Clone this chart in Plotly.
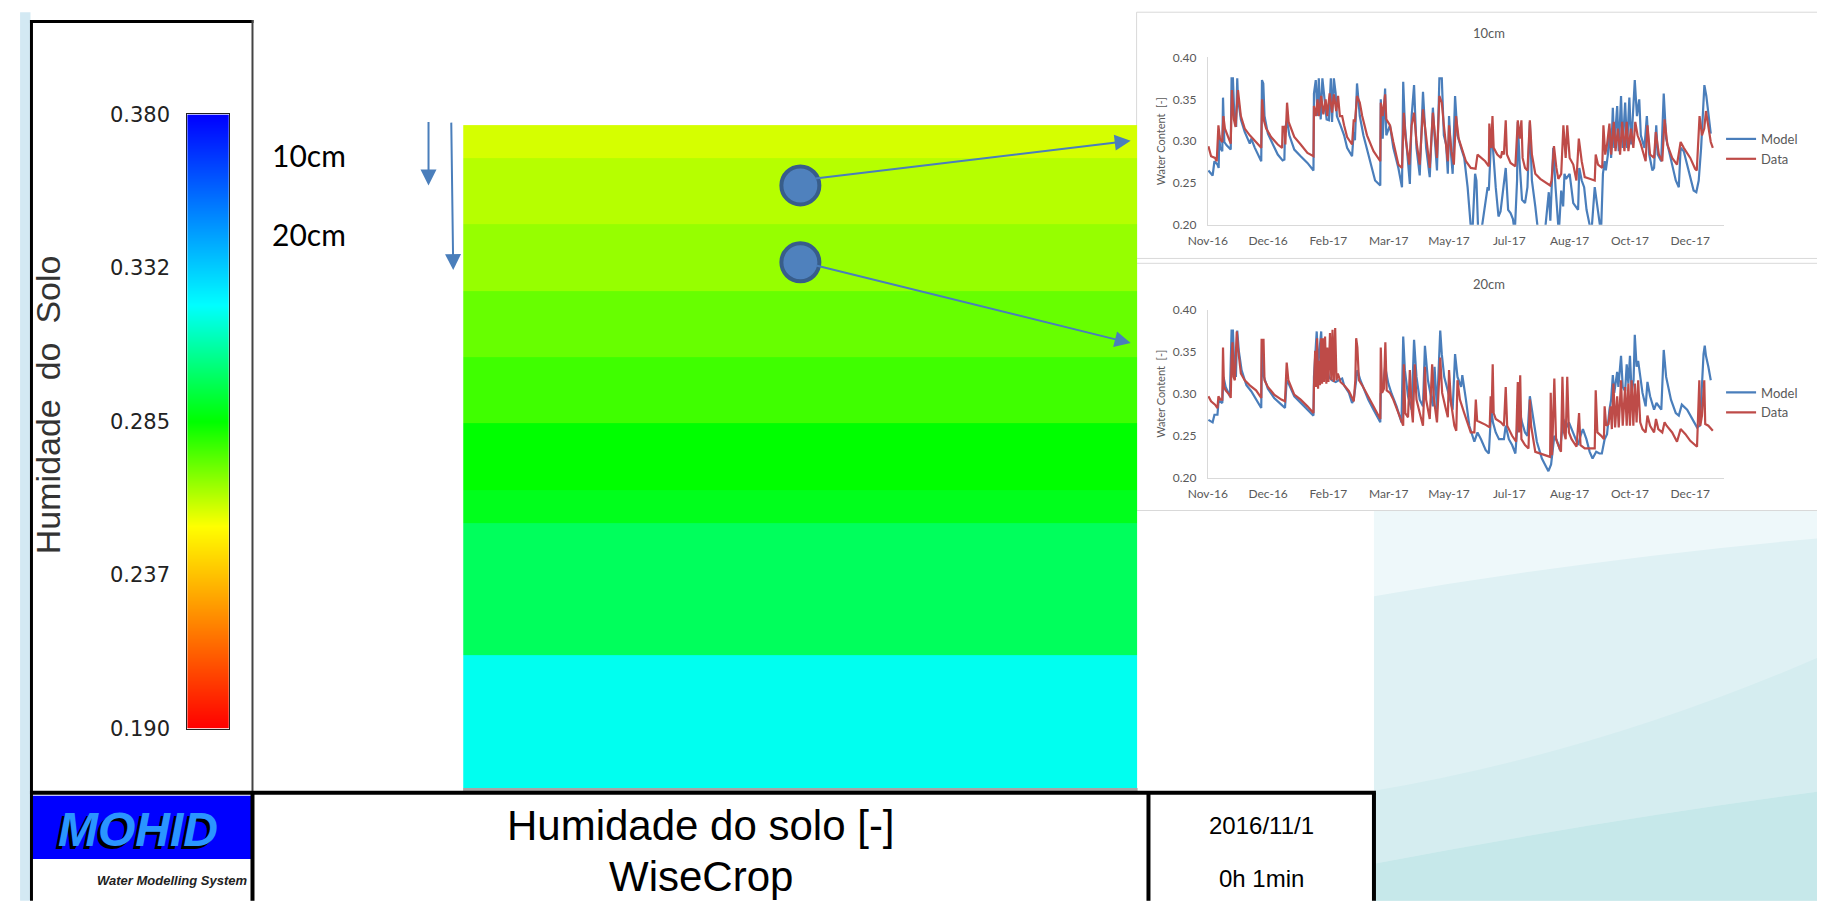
import pandas as pd
import plotly.graph_objects as go

W, H = 1825, 913          # page size
MARGIN = 8                # browser body margin
FW, FH = W - 2 * MARGIN, H - 2 * MARGIN

# ------------------------------------------------------------------ data
cb_levels = [0.190, 0.2375, 0.285, 0.3325, 0.380]
cb_ticktext = ["0.190", "0.237", "0.285", "0.332", "0.380"]

layer_edges_cm = [0, 5, 15, 25, 35, 45, 55, 60, 80, 100]
layer_moisture = [0.258, 0.262, 0.266, 0.272, 0.277, 0.285, 0.289, 0.298, 0.319]

sensor_labels = ["10cm", "20cm"]
sensor_depth_cm = [9.1, 20.7]

start_date = "2016-11-01"
axis_end_date = "2018-01-03"
tick_step_days = 50

# (days since 2016-11-01, water content)
model_10cm = [
    (0.5, 0.265), (4, 0.259), (5.5, 0.276), (8, 0.272), (9, 0.268), (9.5, 0.307), (10.2, 0.292),
    (12, 0.288), (12.6, 0.352), (13.7, 0.299), (15.6, 0.295), (19, 0.29), (19.7, 0.375), (20.8, 0.375),
    (22, 0.33), (23.5, 0.317), (24.4, 0.375), (25, 0.352), (27.4, 0.326), (30.6, 0.311), (34.8, 0.297),
    (36, 0.303), (39, 0.292), (44.3, 0.276), (44.9, 0.373), (46, 0.369), (47, 0.33), (49.8, 0.309),
    (54, 0.296), (58, 0.284), (62, 0.277), (63.5, 0.278), (64, 0.315), (65.7, 0.325), (67.6, 0.307),
    (71.7, 0.29), (77, 0.282), (82.6, 0.274), (87.6, 0.265), (88, 0.357), (89.5, 0.373), (91, 0.33),
    (92, 0.375), (93.6, 0.326), (95, 0.375), (97, 0.35), (98.5, 0.326), (100.4, 0.325), (102, 0.375),
    (103, 0.323), (104.5, 0.375), (106, 0.357), (107, 0.33), (110, 0.319), (113, 0.307), (115.5, 0.292),
    (119.6, 0.282), (121, 0.311), (122, 0.301), (123.7, 0.369), (126, 0.33), (129, 0.307), (134.6, 0.276),
    (138.7, 0.253), (143, 0.247), (143.4, 0.35), (145, 0.303), (147, 0.363), (148, 0.307), (151, 0.319),
    (153.8, 0.292), (158, 0.268), (161, 0.245), (162, 0.371), (163.4, 0.319), (166, 0.28), (167.5, 0.249),
    (169, 0.33), (171, 0.367), (173, 0.292), (175.7, 0.259), (178.4, 0.359), (181, 0.292), (184, 0.257),
    (186.6, 0.34), (188, 0.307), (190, 0.265), (192, 0.375), (194, 0.375), (195.7, 0.307), (197.6, 0.296),
    (199, 0.261), (200, 0.33), (201.7, 0.284), (203, 0.261), (205, 0.354), (207, 0.307), (210, 0.292),
    (212.6, 0.28), (215.4, 0.245), (218, 0.2), (219, 0.18), (221.6, 0.261), (222.7, 0.253), (224, 0.199),
    (226, 0.185), (232, 0.245), (233, 0.241), (235, 0.307), (236.4, 0.292), (238.7, 0.245), (241, 0.21),
    (242.7, 0.216), (244, 0.23), (247, 0.268), (249, 0.218), (251, 0.214), (253, 0.207), (254.5, 0.19),
    (256.4, 0.253), (257, 0.323), (258.6, 0.272), (260.5, 0.23), (263, 0.226), (265, 0.245), (267, 0.323),
    (268.7, 0.253), (271.5, 0.222), (274, 0.19), (278, 0.17), (282.7, 0.239), (284, 0.205), (286.4, 0.292),
    (288.3, 0.245), (290, 0.214), (291, 0.19), (293, 0.241), (294.6, 0.222), (295.7, 0.261), (297, 0.255),
    (300, 0.261), (303, 0.226), (307, 0.218), (308, 0.268), (310, 0.253), (312, 0.245), (314, 0.218),
    (318, 0.19), (320.8, 0.245), (322, 0.23), (324, 0.207), (326, 0.19), (327.6, 0.261), (329, 0.276),
    (330, 0.265), (331.7, 0.284), (333, 0.315), (334.4, 0.28), (335.8, 0.34), (337, 0.292), (339.4, 0.342),
    (340.7, 0.288), (342.6, 0.354), (344, 0.292), (346, 0.346), (347.6, 0.292), (349.5, 0.352), (351, 0.296),
    (352, 0.319), (354, 0.373), (355.8, 0.33), (357.7, 0.35), (359, 0.307), (362, 0.292), (364, 0.33),
    (366, 0.284), (368.6, 0.265), (370, 0.268), (371.8, 0.319), (373, 0.284), (375.9, 0.276), (378, 0.357),
    (380, 0.303), (384, 0.276), (388, 0.253), (390.5, 0.245), (392, 0.292), (394.6, 0.288), (398.7, 0.265),
    (402.8, 0.241), (405, 0.239), (407, 0.253), (409, 0.292), (410.5, 0.342), (411.7, 0.367), (413.3, 0.354),
    (415, 0.33), (417, 0.309),
]

data_10cm = [
    (0.5, 0.294), (2.7, 0.282), (6, 0.28), (7.4, 0.276), (8.8, 0.319), (10, 0.303), (12, 0.299), (12.9, 0.33),
    (14.2, 0.315), (17, 0.305), (19, 0.297), (20, 0.361), (21.6, 0.326), (23, 0.317), (24.4, 0.35), (25, 0.361),
    (27.4, 0.33), (30.6, 0.315), (34.8, 0.307), (37.5, 0.303), (44.3, 0.292), (45, 0.35), (46.5, 0.325),
    (48.4, 0.315), (52.5, 0.305), (58, 0.296), (61.6, 0.292), (62, 0.317), (63.5, 0.317), (64.3, 0.296),
    (65.7, 0.346), (67, 0.323), (71.7, 0.305), (77, 0.296), (82.6, 0.286), (87.6, 0.282), (88, 0.342),
    (89.5, 0.33), (91, 0.35), (92, 0.33), (94, 0.354), (95.8, 0.332), (97.7, 0.35), (99, 0.33), (101, 0.357),
    (103, 0.334), (104.5, 0.356), (106.5, 0.336), (108, 0.354), (109.5, 0.33), (111.4, 0.33), (113, 0.319),
    (115.5, 0.305), (119.6, 0.296), (121, 0.326), (122, 0.323), (123.7, 0.354), (126, 0.346), (128, 0.33),
    (132, 0.307), (137.4, 0.288), (143, 0.276), (143.4, 0.346), (145, 0.33), (147, 0.356), (148, 0.326),
    (151, 0.319), (153.8, 0.299), (158, 0.272), (161, 0.268), (162.5, 0.334), (164, 0.303), (167, 0.272),
    (169, 0.319), (171, 0.334), (173, 0.299), (175.7, 0.272), (178.4, 0.338), (181, 0.303), (184, 0.268),
    (186.6, 0.334), (190, 0.28), (192, 0.354), (194, 0.346), (195.7, 0.319), (199, 0.276), (200, 0.319),
    (202, 0.288), (204, 0.272), (205.8, 0.33), (208, 0.303), (211, 0.288), (214, 0.276), (218, 0.268),
    (222, 0.267), (223.6, 0.284), (226.5, 0.28), (230, 0.276), (233, 0.27), (233.4, 0.321), (235, 0.292),
    (236, 0.33), (237, 0.292), (240, 0.284), (243, 0.28), (244, 0.288), (245.5, 0.284), (247, 0.325),
    (248, 0.284), (251, 0.274), (255, 0.27), (257, 0.325), (258.6, 0.303), (260, 0.325), (261, 0.28),
    (263, 0.268), (265, 0.265), (267, 0.325), (268.7, 0.284), (271.5, 0.261), (275.6, 0.255), (279.7, 0.251),
    (283.8, 0.247), (285, 0.253), (287, 0.294), (289, 0.268), (290.6, 0.255), (293, 0.261), (294.8, 0.319),
    (296.7, 0.28), (298, 0.319), (300, 0.28), (303, 0.272), (305.6, 0.253), (307.6, 0.303), (310, 0.276),
    (312.5, 0.257), (316.6, 0.255), (320.8, 0.253), (321.6, 0.284), (323.5, 0.272), (327, 0.268), (328, 0.319),
    (329.5, 0.284), (331, 0.296), (333, 0.321), (334.4, 0.284), (336.6, 0.323), (338, 0.288), (340, 0.315),
    (341.8, 0.284), (343.5, 0.323), (345.4, 0.288), (347.3, 0.323), (348.7, 0.288), (350.8, 0.315),
    (352.8, 0.292), (354.4, 0.323), (356.3, 0.307), (358.5, 0.299), (360.4, 0.288), (363, 0.276),
    (364.5, 0.319), (366.7, 0.284), (370, 0.28), (371.4, 0.311), (374, 0.284), (376.8, 0.276), (378.7, 0.326),
    (381, 0.296), (385, 0.28), (389, 0.272), (392, 0.299), (394.6, 0.292), (400, 0.28), (404, 0.267),
    (405.4, 0.265), (407.7, 0.33), (409.7, 0.307), (411.6, 0.315), (413, 0.336), (415, 0.315), (417, 0.299),
    (418.7, 0.292),
]

model_20cm = [
    (0.5, 0.269), (4, 0.266), (5.5, 0.275), (8, 0.275), (8.8, 0.289), (10, 0.291), (12, 0.289), (13, 0.32),
    (14.8, 0.308), (18.3, 0.297), (19.7, 0.375), (20.8, 0.375), (22, 0.332), (23.3, 0.32), (24.4, 0.375),
    (25.7, 0.351), (28, 0.328), (32, 0.31), (36, 0.303), (40, 0.293), (44.3, 0.283), (45, 0.364), (46.5, 0.32),
    (49.8, 0.306), (55, 0.295), (61, 0.287), (64, 0.283), (65.4, 0.316), (67, 0.312), (71.7, 0.297), (77, 0.289),
    (82.6, 0.281), (87.6, 0.274), (88, 0.32), (90.3, 0.374), (91.4, 0.332), (94, 0.374), (95, 0.335),
    (97.7, 0.328), (99, 0.332), (100.4, 0.32), (103, 0.316), (106, 0.314), (108.6, 0.316), (111.4, 0.318),
    (113, 0.31), (117, 0.301), (119.6, 0.289), (121, 0.293), (123, 0.316), (124, 0.328), (126.5, 0.316),
    (130, 0.304), (133, 0.293), (137.4, 0.281), (143, 0.266), (143.4, 0.3), (145, 0.306), (147, 0.332),
    (149.7, 0.312), (152.4, 0.3), (156.5, 0.285), (160.6, 0.266), (162, 0.368), (163.4, 0.328), (166, 0.297),
    (169, 0.281), (171, 0.364), (173, 0.32), (175.7, 0.293), (178.4, 0.285), (180, 0.357), (182.5, 0.316),
    (186.6, 0.285), (188, 0.332), (190, 0.281), (192.7, 0.375), (194, 0.347), (196, 0.32), (199.8, 0.297),
    (203, 0.281), (205, 0.347), (207, 0.32), (210, 0.308), (211, 0.322), (214, 0.293), (216.8, 0.262),
    (221, 0.243), (223.6, 0.254), (226.5, 0.246), (230.4, 0.233), (233, 0.229), (235, 0.281), (236.4, 0.266),
    (238.7, 0.254), (241.4, 0.246), (245.5, 0.246), (247, 0.262), (249.6, 0.246), (252.3, 0.239), (255, 0.229),
    (257.8, 0.285), (260.5, 0.266), (263, 0.254), (265, 0.25), (267, 0.297), (269, 0.277), (272.8, 0.243),
    (277, 0.223), (279.7, 0.216), (282.4, 0.208), (284.6, 0.216), (287.3, 0.25), (289, 0.246), (292, 0.233),
    (294.8, 0.27), (296.7, 0.258), (299.4, 0.266), (303, 0.254), (307, 0.239), (309, 0.25), (311, 0.258),
    (313.9, 0.246), (316.6, 0.231), (319, 0.223), (322, 0.231), (324.7, 0.229), (326.7, 0.229), (329, 0.246),
    (331, 0.252), (333, 0.281), (334.4, 0.293), (335.8, 0.322), (337, 0.301), (339.4, 0.326), (340.4, 0.308),
    (342.6, 0.345), (344, 0.308), (346, 0.303), (347.3, 0.335), (348.7, 0.312), (350, 0.345), (351.4, 0.301),
    (353, 0.316), (354, 0.37), (355.5, 0.332), (356.8, 0.339), (358.5, 0.32), (360.4, 0.301), (363, 0.285),
    (364.5, 0.314), (366.7, 0.297), (370, 0.281), (372, 0.289), (374, 0.285), (376, 0.281), (378, 0.352),
    (380, 0.32), (384, 0.293), (388, 0.277), (390.5, 0.274), (393, 0.287), (397.4, 0.281), (401.5, 0.27),
    (405.6, 0.26), (408, 0.262), (409.7, 0.312), (411, 0.347), (412, 0.357), (413, 0.345), (415, 0.332),
    (417, 0.316),
]

data_20cm = [
    (0.5, 0.297), (2.7, 0.291), (6, 0.287), (8, 0.283), (8.8, 0.297), (10.4, 0.293), (12, 0.293), (12.6, 0.355),
    (13.4, 0.308), (14.8, 0.304), (18.3, 0.298), (19, 0.295), (19.7, 0.343), (20.5, 0.361), (21.3, 0.32),
    (22.4, 0.316), (24, 0.374), (25, 0.355), (27.4, 0.324), (30.6, 0.316), (34.8, 0.31), (40, 0.304),
    (44.3, 0.295), (44.6, 0.364), (46.2, 0.364), (47, 0.316), (49.8, 0.308), (55, 0.299), (61, 0.293),
    (64, 0.291), (65.4, 0.337), (66.8, 0.316), (71.7, 0.299), (77, 0.293), (82.6, 0.285), (87.6, 0.277),
    (88, 0.308), (89, 0.351), (89.8, 0.308), (90.6, 0.366), (91.4, 0.306), (92.2, 0.339), (93, 0.31),
    (93.9, 0.366), (94.7, 0.312), (95.5, 0.366), (96.3, 0.314), (97.2, 0.368), (98.3, 0.312), (99, 0.355),
    (100, 0.314), (101.3, 0.372), (102.4, 0.316), (103.4, 0.376), (104.5, 0.314), (105.6, 0.378),
    (106.7, 0.316), (107.8, 0.324), (110, 0.314), (113, 0.31), (117, 0.303), (121, 0.291), (122.3, 0.316),
    (123, 0.366), (124, 0.355), (125.3, 0.316), (128, 0.31), (132, 0.299), (137.4, 0.285), (143, 0.27),
    (143.4, 0.355), (144.5, 0.301), (146, 0.306), (147.2, 0.361), (148.3, 0.304), (151, 0.301), (153.8, 0.293),
    (158, 0.277), (162, 0.262), (162.5, 0.335), (163.7, 0.277), (166, 0.272), (167.5, 0.328), (169, 0.281),
    (170, 0.266), (171.6, 0.335), (173, 0.293), (175.7, 0.277), (178.4, 0.262), (180, 0.332), (181, 0.293),
    (184, 0.27), (186, 0.335), (187.5, 0.293), (190, 0.266), (192.7, 0.343), (194.3, 0.301), (196.8, 0.285),
    (199, 0.272), (200, 0.328), (201.7, 0.289), (204.4, 0.262), (206, 0.256), (207, 0.316), (209, 0.293),
    (212.6, 0.277), (215.4, 0.264), (218, 0.254), (221, 0.254), (222.2, 0.293), (223.3, 0.268), (226.5, 0.266),
    (230.4, 0.263), (233.7, 0.26), (234.5, 0.297), (235.3, 0.277), (236.2, 0.335), (237, 0.277), (238.7, 0.27),
    (243, 0.266), (245.5, 0.262), (247, 0.308), (248.2, 0.262), (252.3, 0.25), (255.6, 0.243), (257, 0.314),
    (258, 0.254), (259, 0.322), (260, 0.246), (263, 0.239), (265.9, 0.235), (267, 0.293), (268, 0.262),
    (271.5, 0.231), (275.6, 0.229), (279.7, 0.227), (283.8, 0.225), (284.3, 0.301), (285.4, 0.227),
    (287.3, 0.318), (288.7, 0.246), (290.6, 0.239), (292.8, 0.231), (294, 0.32), (295.3, 0.254), (296.7, 0.246),
    (298, 0.32), (299.4, 0.254), (301.6, 0.246), (305.7, 0.237), (307.8, 0.277), (309, 0.239), (312.5, 0.235),
    (316.6, 0.235), (320.8, 0.235), (321.6, 0.304), (323, 0.254), (326.2, 0.25), (328.4, 0.246), (329, 0.285),
    (330.3, 0.262), (332.2, 0.264), (333.9, 0.285), (335, 0.258), (336.3, 0.312), (337.7, 0.26), (339.4, 0.297),
    (340.7, 0.26), (342.6, 0.316), (344, 0.262), (346, 0.308), (347.3, 0.262), (348.7, 0.312), (350, 0.262),
    (351.4, 0.316), (352.8, 0.262), (354.1, 0.312), (355.5, 0.266), (356.8, 0.316), (358.5, 0.266),
    (360.4, 0.258), (363, 0.254), (364.5, 0.274), (366.7, 0.262), (370, 0.254), (371.6, 0.27), (373.5, 0.258),
    (376.8, 0.254), (378.7, 0.266), (380.4, 0.262), (385, 0.254), (389, 0.243), (392, 0.258), (396, 0.252),
    (400, 0.244), (405.6, 0.237), (407.5, 0.316), (408.3, 0.262), (409.7, 0.274), (411.6, 0.316),
    (412.4, 0.264), (415, 0.262), (417, 0.258), (418.7, 0.256),
]

# ------------------------------------------------------------------ helpers
def px(x):
    return (x - MARGIN) / FW


def py(y):
    return 1 - (y - MARGIN) / FH


def to_dates(series):
    days = [d for d, _ in series]
    return pd.Timestamp(start_date) + pd.to_timedelta(days, unit="D")


def vals(series):
    return [v for _, v in series]


RAINBOW = [[0.0, "#ff0000"], [0.33, "#ffff00"], [0.5, "#00ff00"], [0.69, "#00ffff"], [1.0, "#0000ff"]]
ZMIN, ZMAX = cb_levels[0], cb_levels[-1]

MODEL_C = "#4a7ebb"
DATA_C = "#be4b48"
GRAY_TXT = "#595959"
CHART_FONT = "Lato, Open Sans, sans-serif"

fig = go.Figure()

# colour bar built from the colour-scale levels
fig.add_trace(go.Heatmap(
    x=[0, 1], y=cb_levels, z=[[v, v] for v in cb_levels], zsmooth="best",
    colorscale=RAINBOW, zmin=ZMIN, zmax=ZMAX, showscale=False,
    xaxis="x", yaxis="y", hoverinfo="skip"))

# soil profile layers
fig.add_trace(go.Heatmap(
    x=[0, 1], y=layer_edges_cm, z=[[v] for v in layer_moisture],
    colorscale=RAINBOW, zmin=ZMIN, zmax=ZMAX, showscale=False,
    xaxis="x2", yaxis="y2", hoverinfo="skip"))

# sensor positions
fig.add_trace(go.Scatter(
    x=[0.5] * len(sensor_depth_cm), y=sensor_depth_cm, mode="markers",
    marker=dict(size=38, color="#4f81bd", line=dict(color="#385d8a", width=4)),
    xaxis="x2", yaxis="y2", showlegend=False, hoverinfo="skip"))

for (m, d, xa, ya, lg) in [(model_10cm, data_10cm, "x3", "y3", "legend"),
                           (model_20cm, data_20cm, "x4", "y4", "legend2")]:
    fig.add_trace(go.Scatter(x=to_dates(m), y=vals(m), mode="lines", name="Model",
                             line=dict(color=MODEL_C, width=2.2), xaxis=xa, yaxis=ya, legend=lg))
    fig.add_trace(go.Scatter(x=to_dates(d), y=vals(d), mode="lines", name="Data",
                             line=dict(color=DATA_C, width=2.2), xaxis=xa, yaxis=ya, legend=lg))

# ------------------------------------------------------------------ axes
def chart_axes(ytop, ybot, xa, ya):
    xaxis = dict(
        domain=[px(1201), px(1723)], anchor=ya, type="date",
        range=[start_date, axis_end_date], tick0=start_date,
        dtick=tick_step_days * 86400000, tickformat="%b-%y",
        showgrid=False, zeroline=False, showline=True, linecolor="#d9d9d9", linewidth=1,
        ticks="", ticklabelstandoff=5,
        tickfont=dict(family=CHART_FONT, size=12, color=GRAY_TXT))
    yaxis = dict(
        domain=[py(ybot), py(ytop)], anchor=xa, range=[0.2, 0.4], dtick=0.05, tickformat=".2f",
        showgrid=False, zeroline=False, showline=True, linecolor="#d9d9d9", linewidth=1,
        ticks="", ticklabelstandoff=8,
        tickfont=dict(family=CHART_FONT, size=12, color=GRAY_TXT),
        title=dict(text="Water Content  [-]", standoff=4,
                   font=dict(family=CHART_FONT, size=11, color=GRAY_TXT)))
    return xaxis, yaxis


x3, y3 = chart_axes(46.5, 218.5, "x3", "y3")
x4, y4 = chart_axes(305.5, 478.5, "x4", "y4")

fig.update_layout(
    width=FW, height=FH, autosize=False,
    margin=dict(l=0, r=0, t=0, b=0, pad=0),
    paper_bgcolor="white", plot_bgcolor="rgba(0,0,0,0)",
    xaxis=dict(domain=[px(169), px(211)], anchor="y", range=[0, 1], showticklabels=False, ticks="",
               showgrid=False, zeroline=False, showline=True, mirror=True, linecolor="#222", linewidth=1),
    yaxis=dict(domain=[py(736), py(105)], anchor="x", range=[ZMIN, ZMAX], tickvals=cb_levels,
               ticktext=cb_ticktext, ticks="", side="left", ticklabelstandoff=12,
               showgrid=False, zeroline=False, showline=True, mirror=True, linecolor="#222", linewidth=1,
               tickfont=dict(family="DejaVu Sans", size=21, color="#222")),
    xaxis2=dict(domain=[px(448), px(1130)], anchor="y2", range=[0, 1], visible=False),
    yaxis2=dict(domain=[py(797), py(116)], anchor="x2", range=[layer_edges_cm[-1], layer_edges_cm[0]],
                visible=False),
    xaxis3=x3, yaxis3=y3, xaxis4=x4, yaxis4=y4,
    legend=dict(x=px(1720), y=py(140.5), xanchor="left", yanchor="middle", bgcolor="rgba(0,0,0,0)",
                font=dict(family=CHART_FONT, size=13, color=GRAY_TXT), itemwidth=30, tracegroupgap=0),
    legend2=dict(x=px(1720), y=py(401), xanchor="left", yanchor="middle", bgcolor="rgba(0,0,0,0)",
                 font=dict(family=CHART_FONT, size=13, color=GRAY_TXT), itemwidth=30, tracegroupgap=0),
    showlegend=True,
)

# ------------------------------------------------------------------ decorative shapes
def path_str(cmds):
    out = []
    for c in cmds:
        if c[0] in ("M", "L"):
            out.append(f"{c[0]} {px(c[1]):.5f},{py(c[2]):.5f}")
        elif c[0] == "Q":
            out.append(f"Q {px(c[1]):.5f},{py(c[2]):.5f} {px(c[3]):.5f},{py(c[4]):.5f}")
        elif c[0] == "Z":
            out.append("Z")
    return " ".join(out)


shapes = []


def rect(x0, y0, x1, y1, fill=None, line=None, lw=0, layer="below"):
    shapes.append(dict(type="rect", xref="paper", yref="paper", x0=px(x0), x1=px(x1), y0=py(y1), y1=py(y0),
                       fillcolor=fill or "rgba(0,0,0,0)", line=dict(color=line or "rgba(0,0,0,0)", width=lw),
                       layer=layer))


def line(x0, y0, x1, y1, color="black", lw=2, layer="above"):
    shapes.append(dict(type="line", xref="paper", yref="paper", x0=px(x0), x1=px(x1), y0=py(y0), y1=py(y1),
                       line=dict(color=color, width=lw), layer=layer))


def poly(cmds, fill):
    shapes.append(dict(type="path", xref="paper", yref="paper", path=path_str(cmds), fillcolor=fill,
                       line=dict(width=0), layer="below"))


# slide background bits
rect(0, 0, 10.5, 913, fill="#d3e9f3")
rect(1369, 513, 1825, 913, fill="#dff1f4")
poly([("M", 1369, 513), ("L", 1825, 513), ("L", 1825, 540), ("Q", 1600, 560, 1369, 600), ("Z",)], "#eef8fa")
poly([("M", 1369, 800), ("Q", 1600, 760, 1825, 660), ("L", 1825, 800), ("Q", 1600, 830, 1369, 875), ("Z",)],
     "#d5edf0")
poly([("M", 1369, 875), ("Q", 1600, 830, 1825, 800), ("L", 1825, 913), ("L", 1369, 913), ("Z",)], "#c6e8ea")

# chart boxes
rect(1129, 0, 1826, 253, fill="white", line="#d9d9d9", lw=1)
rect(1129, 258, 1826, 512, fill="white", line="#d9d9d9", lw=1)

# gray base under the soil column
rect(448, 797, 1130, 801, fill="#a6a6a6", layer="above")

# MOHID logo box
rect(12, 805, 234, 870, fill="#0000ff", layer="above")

# panel frame lines
line(11.5, 8, 11.5, 913, lw=3)
line(10, 9.5, 236, 9.5, lw=3)
line(235, 8, 235, 802, color="#444", lw=2)
line(10, 802, 1371, 802, lw=4)
line(235, 802, 235, 913, lw=4)
line(1141, 802, 1141, 913, lw=4)
line(1369, 802, 1369, 913, lw=4)

fig.update_layout(shapes=shapes)

# ------------------------------------------------------------------ annotations
ann = []


def text(x, y, s, size, color="black", family="Liberation Sans", xanchor="center", yanchor="middle", angle=0):
    ann.append(dict(x=px(x), y=py(y), xref="paper", yref="paper", text=s, showarrow=False,
                    xanchor=xanchor, yanchor=yanchor, textangle=angle,
                    font=dict(family=family, size=size, color=color)))


def arrow(x_tail, y_tail, x_head, y_head):
    ann.append(dict(x=px(x_head), y=py(y_head), xref="paper", yref="paper", text="", showarrow=True,
                    ax=x_tail - x_head, ay=y_tail - y_head, axref="pixel", ayref="pixel",
                    arrowhead=2, arrowsize=1.6, arrowwidth=2, arrowcolor="#4a7ebb", standoff=0))


# colour-bar title
text(29, 403, "Humidade\u00a0 do\u00a0 Solo", 34, color="#333", angle=-90)

# depth labels and arrows
text(253, 147, sensor_labels[0], 30, family="Lato", xanchor="left")
text(253, 228, sensor_labels[1], 30, family="Lato", xanchor="left")
arrow(413, 113, 413, 178)
arrow(436, 116, 438, 265)
arrow(806, 170, 1123, 132)
arrow(807, 262, 1123, 340)

# inset chart titles
text(1485, 21, sensor_labels[0], 13, color=GRAY_TXT, family=CHART_FONT)
text(1485, 279, sensor_labels[1], 13, color=GRAY_TXT, family=CHART_FONT)

# bottom banner
text(689, 836, "Humidade do solo [-]", 42)
text(689, 888, "WiseCrop", 42)
text(1255, 836, "2016/11/1", 24)
text(1255, 890, "0h 1min", 24)
text(116, 843, "<b><i>MOHID</i></b>", 48, color="#000000")
text(119, 840, "<b><i>MOHID</i></b>", 48, color="#2a95ff")
text(231, 892, "<b><i>Water Modelling System</i></b>", 13, color="#222", xanchor="right")

fig.update_layout(annotations=ann)

fig.write_html("out.html", config={"displayModeBar": False})
